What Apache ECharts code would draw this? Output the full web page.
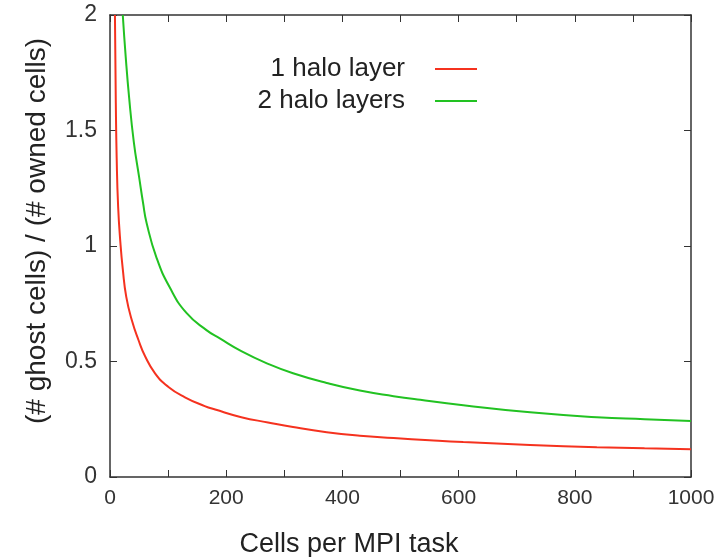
<!DOCTYPE html>
<html>
<head>
<meta charset="utf-8">
<script src="https://cdn.jsdelivr.net/npm/echarts@6/dist/echarts.min.js"></script>
<style>
  html, body { margin: 0; padding: 0; background: #fff; }
  #chart { width: 728px; height: 557px; }
</style>
</head>
<body>
<div id="chart"></div>
<script>
// values
var oneLayerCells = [8.5, 10, 11.5, 14, 18, 22, 28, 38, 49, 60, 77.5, 100, 129, 163, 181, 226, 272, 315, 373, 430, 488, 550, 608, 723, 838, 920, 1000]
var oneLayerRatio = [2.0, 1.62, 1.38, 1.17, 1.01, 0.9, 0.78, 0.675, 0.593, 0.525, 0.449, 0.391, 0.345, 0.307, 0.292, 0.259, 0.236, 0.216, 0.194, 0.179, 0.169, 0.159, 0.151, 0.139, 0.129, 0.124, 0.12]
var twoLayerCells = [22, 27, 33, 41, 50, 57, 63, 80, 103, 132, 166, 189, 226, 272, 315, 373, 430, 488, 534, 608, 723, 838, 920, 1000]
var twoLayerRatio = [2.0, 1.82, 1.64, 1.45, 1.3, 1.185, 1.1, 0.95, 0.82, 0.709, 0.636, 0.6, 0.545, 0.49, 0.449, 0.407, 0.374, 0.35, 0.334, 0.311, 0.28, 0.259, 0.25, 0.242]
var seriesNames = ['1 halo layer', '2 halo layers']
var xTitle = 'Cells per MPI task'
var yTitle = '(# ghost cells) / (# owned cells)'

function pairs(xs, ys) {
  return xs.map(function (x, i) { return [x, ys[i]] })
}

var font = '"Liberation Sans", Arial, sans-serif'
var axisColor = '#333'

function axisBase(extra) {
  var a = {
    type: 'value',
    axisLine: { show: true, onZero: false, lineStyle: { color: axisColor, width: 1.5 } },
    axisTick: { show: true, inside: true, length: 7, lineStyle: { color: axisColor } },
    splitLine: { show: false },
    axisLabel: { show: false }
  }
  return Object.assign(a, extra)
}

function legendItem(name, top) {
  return {
    data: [name], right: 251, top: top, align: 'right', padding: 0,
    icon: 'rect', itemWidth: 42, itemHeight: 2,
    textStyle: { fontSize: 26, color: '#222', fontFamily: font, lineHeight: 28, padding: [0, 25, 0, 0] }
  }
}

var chart = echarts.init(document.getElementById('chart'))
var option = {
  animation: false,
  backgroundColor: '#fff',
  grid: { left: 110, right: 37, top: 15, bottom: 80 },
  xAxis: [
    axisBase({
      min: 0, max: 1000, interval: 100, position: 'bottom',
      axisLabel: {
        show: true, margin: 11, fontSize: 21, color: axisColor, fontFamily: font,
        formatter: function (v) { return v % 200 === 0 ? String(v) : '' }
      }
    }),
    axisBase({ min: 0, max: 1000, interval: 100, position: 'top' })
  ],
  yAxis: [
    axisBase({
      min: 0, max: 2, interval: 0.5, position: 'left',
      axisLabel: { show: true, margin: 13, fontSize: 23, color: axisColor, fontFamily: font }
    }),
    axisBase({ min: 0, max: 2, interval: 0.5, position: 'right' })
  ],
  legend: [legendItem(seriesNames[0], 55), legendItem(seriesNames[1], 87)],
  graphic: [
    {
      type: 'text', x: 349, y: 545,
      style: { text: xTitle, font: '27px ' + font, fill: '#222', textAlign: 'center', textVerticalAlign: 'middle' }
    },
    {
      type: 'text', x: 37, y: 231, rotation: Math.PI / 2,
      style: { text: yTitle, font: '28px ' + font, fill: '#222', textAlign: 'center', textVerticalAlign: 'middle' }
    }
  ],
  series: [
    {
      name: seriesNames[0], type: 'line', showSymbol: false, smooth: 0.5,
      color: '#f5321f', lineStyle: { width: 2 },
      data: pairs(oneLayerCells, oneLayerRatio)
    },
    {
      name: seriesNames[1], type: 'line', showSymbol: false, smooth: 0.5,
      color: '#22c222', lineStyle: { width: 2 },
      data: pairs(twoLayerCells, twoLayerRatio)
    }
  ]
}
chart.setOption(option)
</script>
</body>
</html>
